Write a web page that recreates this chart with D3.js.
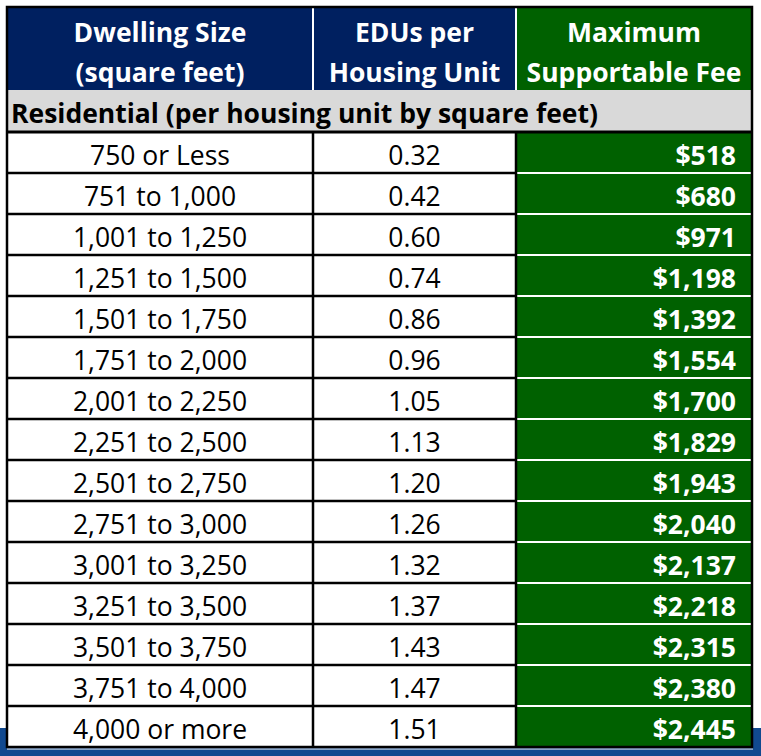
<!DOCTYPE html>
<html>
<head>
<meta charset="utf-8">
<script src="https://cdn.jsdelivr.net/npm/d3@7"></script>
<style>
  html, body { margin: 0; padding: 0; background: #ffffff; }
  svg { display: block; }
</style>
</head>
<body>
<svg id="chart"></svg>
<script>
// page size
var width = 761,
    height = 756;

// table data
var headers = [
  ["Dwelling Size", "(square feet)"],
  ["EDUs per", "Housing Unit"],
  ["Maximum", "Supportable Fee"]
];
var sectionLabel = "Residential (per housing unit by square feet)";
var sizes = ["750 or Less", "751 to 1,000", "1,001 to 1,250", "1,251 to 1,500",
  "1,501 to 1,750", "1,751 to 2,000", "2,001 to 2,250", "2,251 to 2,500",
  "2,501 to 2,750", "2,751 to 3,000", "3,001 to 3,250", "3,251 to 3,500",
  "3,501 to 3,750", "3,751 to 4,000", "4,000 or more"];
var edus = [0.32, 0.42, 0.60, 0.74, 0.86, 0.96, 1.05, 1.13, 1.20, 1.26,
  1.32, 1.37, 1.43, 1.47, 1.51];
var fees = [518, 680, 971, 1198, 1392, 1554, 1700, 1829, 1943, 2040,
  2137, 2218, 2315, 2380, 2445];

// layout
var colEdges = [7, 313, 516, 752];
var tableTop = 7, headerBottom = 90, sectionBottom = 132, tableBottom = 747;
var navy = "#002060", green = "#006100", grey = "#d9d9d9";
var font = "'Open Sans', Lato, sans-serif";
var fontSize = "26.5px";

var svg = d3.select("#chart")
  .attr("width", width)
  .attr("height", height);

// blue band behind the bottom of the table
svg.append("rect")
  .attr("x", 0).attr("y", 728)
  .attr("width", width).attr("height", height - 728)
  .attr("fill", "#11498f");

// thin white edge under the table
svg.append("line")
  .attr("x1", colEdges[0]).attr("x2", colEdges[3] + 1)
  .attr("y1", tableBottom + 2).attr("y2", tableBottom + 2)
  .attr("stroke", "#ffffff").attr("stroke-width", 1);

// row scale for the data rows
var y = d3.scaleBand()
  .domain(d3.range(sizes.length))
  .range([sectionBottom, tableBottom]);

var fmtEdu = d3.format(".2f");
var fmtFee = d3.format("$,");

// header cells
var hdr = svg.append("g");
hdr.selectAll("rect")
  .data(headers)
  .enter().append("rect")
    .attr("x", function(d, i) { return colEdges[i]; })
    .attr("y", tableTop)
    .attr("width", function(d, i) { return colEdges[i+1] - colEdges[i]; })
    .attr("height", headerBottom - tableTop)
    .attr("fill", function(d, i) { return i == 2 ? green : navy; });

hdr.selectAll("text")
  .data(headers)
  .enter().append("text")
    .attr("x", function(d, i) { return (colEdges[i] + colEdges[i+1]) / 2; })
    .attr("text-anchor", "middle")
    .attr("fill", "#fff")
    .style("font-family", font)
    .style("font-weight", "bold")
    .style("font-size", fontSize)
    .each(function(d) {
      var t = d3.select(this);
      t.append("tspan").attr("x", t.attr("x")).attr("y", 42).text(d[0]);
      t.append("tspan").attr("x", t.attr("x")).attr("y", 82).text(d[1]);
    });

// white separators inside the header
hdr.selectAll("line")
  .data([colEdges[1], colEdges[2]])
  .enter().append("line")
    .attr("x1", function(d) { return d; }).attr("x2", function(d) { return d; })
    .attr("y1", tableTop + 1).attr("y2", headerBottom)
    .attr("stroke", "#fff").attr("stroke-width", 2);

// section row
svg.append("rect")
  .attr("x", colEdges[0]).attr("y", headerBottom)
  .attr("width", colEdges[3] - colEdges[0]).attr("height", sectionBottom - headerBottom)
  .attr("fill", grey);
svg.append("text")
  .attr("x", 11).attr("y", 123)
  .attr("fill", "#000")
  .style("font-family", font)
  .style("font-weight", "bold")
  .style("font-size", fontSize)
  .text(sectionLabel);

// data rows
var rows = svg.append("g").selectAll("g")
  .data(sizes)
  .enter().append("g")
    .attr("transform", function(d, i) { return "translate(0," + y(i) + ")"; });

rows.append("rect")
  .attr("x", colEdges[0]).attr("width", colEdges[2] - colEdges[0])
  .attr("height", y.bandwidth())
  .attr("fill", "#fff");
rows.append("rect")
  .attr("x", colEdges[2]).attr("width", colEdges[3] - colEdges[2])
  .attr("height", y.bandwidth())
  .attr("fill", green);

rows.append("text")
  .attr("x", (colEdges[0] + colEdges[1]) / 2)
  .attr("y", y.bandwidth() - 8)
  .attr("text-anchor", "middle")
  .style("font-family", font)
  .style("font-size", fontSize)
  .text(function(d) { return d; });

rows.append("text")
  .attr("x", (colEdges[1] + colEdges[2]) / 2)
  .attr("y", y.bandwidth() - 8)
  .attr("text-anchor", "middle")
  .style("font-family", font)
  .style("font-size", fontSize)
  .text(function(d, i) { return fmtEdu(edus[i]); });

rows.append("text")
  .attr("x", colEdges[3] - 16)
  .attr("y", y.bandwidth() - 8)
  .attr("text-anchor", "end")
  .attr("fill", "#fff")
  .style("font-family", font)
  .style("font-weight", "bold")
  .style("font-size", fontSize)
  .text(function(d, i) { return fmtFee(fees[i]); });

// grid lines: black in the white columns, white in the green column
var lines = svg.append("g");
lines.selectAll(".hb")
  .data(d3.range(1, sizes.length))
  .enter().append("line")
    .attr("x1", colEdges[0]).attr("x2", colEdges[2])
    .attr("y1", function(i) { return y(i); }).attr("y2", function(i) { return y(i); })
    .attr("stroke", "#000").attr("stroke-width", 2.5);
lines.selectAll(".hw")
  .data(d3.range(1, sizes.length))
  .enter().append("line")
    .attr("x1", colEdges[2] + 1).attr("x2", colEdges[3] - 1)
    .attr("y1", function(i) { return y(i); }).attr("y2", function(i) { return y(i); })
    .attr("stroke", "#fff").attr("stroke-width", 2);

// section bottom line
lines.append("line")
  .attr("x1", colEdges[0]).attr("x2", colEdges[3])
  .attr("y1", sectionBottom).attr("y2", sectionBottom)
  .attr("stroke", "#000").attr("stroke-width", 3);

// vertical lines in data area
lines.selectAll(".v")
  .data([colEdges[1], colEdges[2]])
  .enter().append("line")
    .attr("x1", function(d) { return d; }).attr("x2", function(d) { return d; })
    .attr("y1", sectionBottom).attr("y2", tableBottom)
    .attr("stroke", "#000").attr("stroke-width", 2.5);

// outer border
svg.append("rect")
  .attr("x", colEdges[0]).attr("y", tableTop)
  .attr("width", colEdges[3] - colEdges[0]).attr("height", tableBottom - tableTop)
  .attr("fill", "none")
  .attr("stroke", "#000").attr("stroke-width", 2.5);
</script>
</body>
</html>
